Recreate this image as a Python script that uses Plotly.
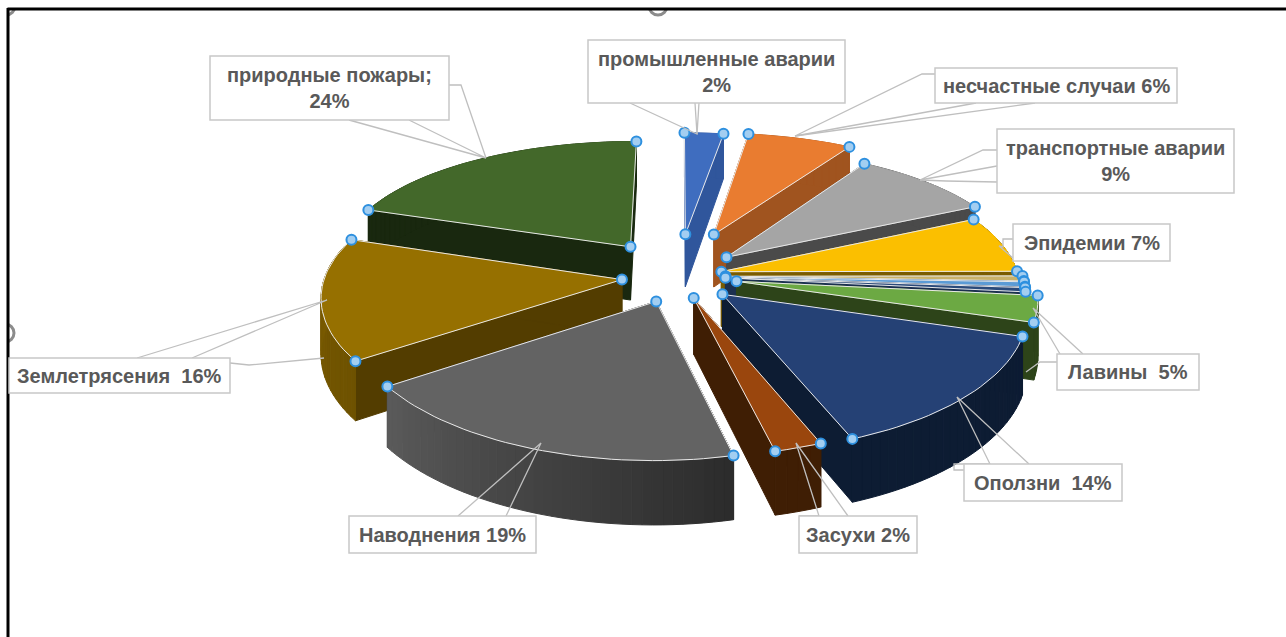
import math
import plotly.graph_objects as go

# ---------- data ----------
categories = ["промышленные аварии", "несчастные случаи", "транспортные аварии", "Эпидемии",
              "прочее 1", "прочее 2", "прочее 3", "Лавины", "Оползни", "Засухи",
              "Наводнения", "Землетрясения", "природные пожары"]
sector_values = [2.5, 6.7, 8.9, 6.9, 0.6, 0.6, 0.5, 3.1, 14.2, 2.3, 19.3, 14.6, 20.0]
label_texts = ["промышленные аварии<br>2%", "несчастные случаи 6%", "транспортные аварии<br>9%",
               "Эпидемии 7%", "Лавины  5%", "Оползни  14%", "Засухи 2%", "Наводнения 19%",
               "Землетрясения  16%", "природные пожары;<br>24%"]

# ---------- style ----------
pull = [.33, .35, .22, .15, .16, .16, .16, .20, .20, .17, .20, .19, .28]
top_colors = ["#3F6DBF", "#E97C30", "#A5A5A5", "#FBBF00", "#C9B26A", "#5B9BD5", "#2A4A7A",
              "#6CA943", "#254175", "#9A460D", "#636363", "#967000", "#43682A"]
wall_a = ["#30569C", "#A0541F", "#4A4A4A", "#7A5C00", "#7A5C00", "#264478", "#1B3050",
          "#2D4419", "#0D1C33", "#3F1E04", "#5A5A5A", "#7E5E00", "#19280F"]
wall_b = ["#30569C", "#A0541F", "#4A4A4A", "#7A5C00", "#7A5C00", "#264478", "#1B3050",
          "#2D4419", "#0D1C33", "#3F1E04", "#2C2C2C", "#6E5200", "#19280F"]
radial = ["#30569C", "#A0541F", "#4A4A4A", "#7A5C00", "#7A5C00", "#264478", "#1B3050",
          "#2D4419", "#0D1C33", "#3F1E04", "#3A3A3A", "#533D00", "#19280F"]
CX, CY, RX, KY, PY, PX, DEPTH = 678, 276, 297, 133, .143, .12, 55


def project(angle, r, e, bis, z=0.0):
    X = e * math.sin(bis) + r * math.sin(angle)
    Y = -(e * math.cos(bis) + r * math.cos(angle))
    return (CX + RX * X * (1 + PX * Y),
            CY + KY * Y * (1 + PY * Y) + z * DEPTH * (1 + PY * Y))


def hex_mix(c1, c2, t):
    a = [int(c1[i:i + 2], 16) for i in (1, 3, 5)]
    b = [int(c2[i:i + 2], 16) for i in (1, 3, 5)]
    return "#%02x%02x%02x" % tuple(round(p + (q - p) * t) for p, q in zip(a, b))


fig = go.Figure()


def poly(pts, color, line=None, width=1):
    fig.add_trace(go.Scatter(x=[p[0] for p in pts] + [pts[0][0]], y=[p[1] for p in pts] + [pts[0][1]],
                             mode="lines", fill="toself", fillcolor=color,
                             line=dict(color=line or color, width=width), hoverinfo="skip", showlegend=False))


def polyline(pts, color, width=1):
    fig.add_trace(go.Scatter(x=[p[0] for p in pts], y=[p[1] for p in pts], mode="lines",
                             line=dict(color=color, width=width), hoverinfo="skip", showlegend=False))


total = sum(sector_values)
angles = [0.0]
for v in sector_values:
    angles.append(angles[-1] + v / total * 2 * math.pi)

order = []
for i in range(len(sector_values)):
    bis = (angles[i] + angles[i + 1]) / 2
    order.append((-(math.cos(bis)), i))
order.sort()

hx, hy = [], []
for _, i in order:
    a0, a1 = angles[i], angles[i + 1]
    bis, e = (a0 + a1) / 2, pull[i]
    n = max(3, int((a1 - a0) / .03))
    arc = [a0 + (a1 - a0) * k / n for k in range(n + 1)]
    # radial side walls
    for a in (a0, a1):
        poly([project(0, 0, e, bis), project(a, 1, e, bis), project(a, 1, e, bis, 1), project(0, 0, e, bis, 1)], radial[i])
    # outer wall, shaded along the arc
    for k in range(n):
        t = k / max(1, n - 1)
        c = hex_mix(wall_b[i], wall_a[i], t)
        poly([project(arc[k], 1, e, bis), project(arc[k + 1], 1, e, bis),
              project(arc[k + 1], 1, e, bis, 1), project(arc[k], 1, e, bis, 1)], c)
    # top
    apex = project(0, 0, e, bis)
    rim = [project(a, 1, e, bis) for a in arc]
    poly([apex] + rim, top_colors[i])
    front = -math.cos(bis) > -.1
    if front:
        polyline([rim[-1], apex, rim[0]] if i > 8 else [rim[0], apex, rim[-1]], "#E8E8E8", 1)
        polyline(rim, "#E8E8E8", 1)
    else:
        polyline([rim[0], apex, rim[-1]], "#E8E8E8", 1)
    hx += [apex[0], rim[0][0], rim[-1][0]]
    hy += [apex[1], rim[0][1], rim[-1][1]]

fig.add_trace(go.Scatter(x=hx, y=hy, mode="markers", hoverinfo="skip", showlegend=False,
                         marker=dict(size=10, color="#A3CEF1", line=dict(color="#2E90DF", width=2))))

# ---------- labels (box x0, y0, x1, y1) ----------
boxes = [(588, 40, 845, 103), (935, 68, 1177, 103), (997, 129, 1234, 193), (1013, 224, 1170, 261),
         (1057, 354, 1199, 390), (964, 464, 1122, 501), (799, 516, 917, 553), (349, 516, 536, 553),
         (9, 358, 230, 393), (210, 56, 449, 120)]
leaders = [
    [(630, 103), (697, 134), (695, 103)], [(699, 103), (697, 134)],
    [(935, 74), (922, 74), (795, 136), (976, 103)], [(795, 136), (1035, 103)],
    [(997, 150), (983, 150), (920, 180), (997, 166)], [(920, 180), (946, 181), (997, 182)],
    [(1013, 239), (1003, 239), (1003, 247), (999, 246), (1013, 258)],
    [(1083, 354), (1033, 308), (1060, 354)], [(1057, 362), (1040, 362), (1026, 372)],
    [(1029, 464), (957, 397), (990, 464), (954, 464), (954, 470), (964, 470)],
    [(799, 516), (819, 516), (796, 443), (848, 516)],
    [(458, 516), (541, 443), (506, 516)],
    [(137, 358), (327, 300), (192, 358)], [(230, 363), (249, 365), (324, 358)],
    [(349, 120), (486, 158), (409, 120)], [(486, 158), (461, 85), (449, 85)],
]
shapes = []
for pts in leaders:
    path = "M" + " L".join(f"{x},{y}" for x, y in pts)
    shapes.append(dict(type="path", path=path, line=dict(color="#BFBFBF", width=1.3), layer="above"))
for x0, y0, x1, y1 in boxes:
    shapes.append(dict(type="rect", x0=x0, y0=y0, x1=x1, y1=y1, fillcolor="white",
                       line=dict(color="#C8C8C8", width=1.5), layer="above"))
annotations = [dict(x=(b[0] + b[2]) / 2, y=(b[1] + b[3]) / 2, text=t, showarrow=False,
                    font=dict(family="Liberation Sans", size=20, color="#595959", weight="bold"),
                    xanchor="center", yanchor="middle", align="center")
               for b, t in zip(boxes, label_texts)]

# frame and selection rings of the screenshot
for cx, cy in [(658, 6), (5, 333), (6, 6)]:
    shapes.append(dict(type="circle", x0=cx - 9, y0=cy - 9, x1=cx + 9, y1=cy + 9, fillcolor="white",
                       line=dict(color="#8C8C8C", width=3), layer="below"))
shapes += [
    dict(type="rect", x0=0, y0=0, x1=1286, y1=8, fillcolor="white", line=dict(width=0), layer="below"),
    dict(type="rect", x0=0, y0=0, x1=7, y1=637, fillcolor="white", line=dict(width=0), layer="below"),
    dict(type="line", x0=7.5, y0=9, x1=1286, y1=9, line=dict(color="black", width=3), layer="below"),
    dict(type="line", x0=8, y0=8, x1=8, y1=637, line=dict(color="black", width=3), layer="below"),
]

fig.update_layout(
    width=1286, height=637, margin=dict(l=0, r=0, t=0, b=0),
    paper_bgcolor="white", plot_bgcolor="white", showlegend=False,
    xaxis=dict(range=[0, 1286], visible=False, fixedrange=True),
    yaxis=dict(range=[637, 0], visible=False, fixedrange=True),
    shapes=shapes, annotations=annotations,
)
fig.write_html("out.html", post_script="document.body.style.margin='0';document.body.style.overflow='hidden';",
               config={"displayModeBar": False})
